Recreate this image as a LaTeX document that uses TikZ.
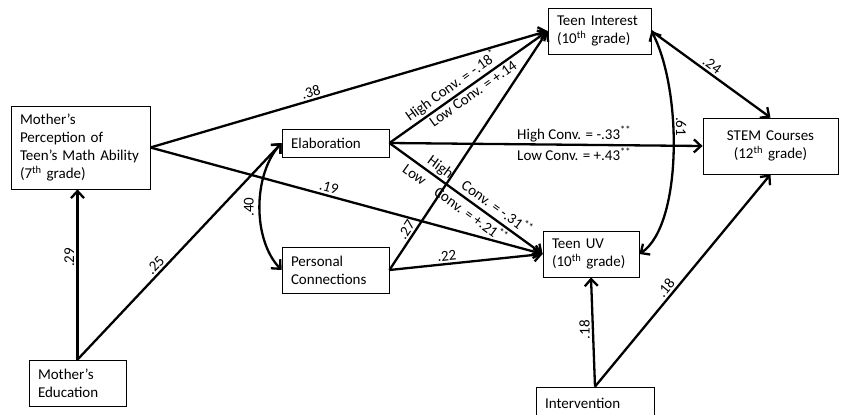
\documentclass[tikz,border=0pt]{standalone}
\usepackage{fontspec}
\setmainfont{Carlito}
\usetikzlibrary{arrows.meta}

\tikzset{
  box/.style={draw, line width=0.8pt, inner xsep=9pt, inner ysep=0pt, align=left,
    font=\fontsize{15}{18}\selectfont},
  link/.style={line width=2.3pt, -{Straight Barb[length=7pt,width=13pt]}},
  both/.style={line width=2.3pt, {Straight Barb[length=7pt,width=13pt]}-{Straight Barb[length=7pt,width=13pt]}},
  coef/.style={font=\fontsize{15}{18}\selectfont, inner sep=2pt},
}

\begin{document}
\begin{tikzpicture}[x=1pt,y=-1pt]
\useasboundingbox (0,0) rectangle (841,415);

% measured variables
\node[box, text width=121pt, minimum height=83pt] (mp) at (80.5,147.5)
  {Mother’s\\Perception of\\Teen’s Math Ability\\(7\textsuperscript{th} grade)};
\node[box, text width=79pt, minimum height=46pt] (me) at (77.5,383) {Mother’s\\Education};
\node[box, text width=89pt, minimum height=28pt] (el) at (335.5,143) {Elaboration};
\node[box, text width=89pt, minimum height=46pt] (pc) at (335.5,270) {Personal\\Connections};
\node[box, text width=85pt, minimum height=46pt] (ti) at (599.5,31) {Teen Interest\\(10\textsuperscript{th} grade)};
\node[box, text width=78pt, minimum height=46pt] (uv) at (591,254) {Teen UV\\(10\textsuperscript{th} grade)};
\node[box, text width=100pt, minimum height=32pt] (iv) at (595,403) {Intervention};
\node[box, text width=117pt, minimum height=56pt, align=center] (sc) at (770.5,146)
  {STEM Courses\\(12\textsuperscript{th} grade)};

% paths
\draw[link] (me.north) -- (me.north |- mp.south)
  node[coef, pos=0.6, rotate=90, anchor=south] {.29};
\draw[link] (me.north) -- (el.west) node[coef, pos=0.41, sloped, above] {.25};
\draw[link] (mp.east) -- (ti.west) node[coef, pos=0.41, sloped, above] {.38};
\draw[link] (mp.east) -- (uv.west) node[coef, pos=0.45, sloped, above] {.19};
\draw[link] (el.east) -- (ti.west)
  node[coef, pos=0.43, sloped, above] {High Conv. = -.18\textsuperscript{*}}
  node[coef, pos=0.5, sloped, below] {Low Conv. = +.14};
\draw[link] (el.east) -- (sc.west)
  node[coef, pos=0.59, above] {High Conv. = -.33\textsuperscript{**}}
  node[coef, pos=0.59, below] {Low Conv. = +.43\textsuperscript{**}};
\draw[link] (el.east) -- (uv.west)
  node[coef, pos=0.55, sloped, above] {High\hspace{14pt}Conv. = -.31\textsuperscript{**}}
  node[coef, pos=0.47, sloped, below] {Low\hspace{14pt}Conv. = +.21\textsuperscript{**}};
\draw[link] (pc.east) -- (ti.west) node[coef, pos=0.15, sloped, above] {.27};
\draw[link] (pc.east) -- (uv.west) node[coef, pos=0.38, sloped, above] {.22};
\draw[link] (ti.east) -- (sc.north) node[coef, pos=0.47, sloped, above] {.24};
\draw[link] (iv.north) -- (uv.south)
  node[coef, pos=0.52, rotate=90, anchor=south] {.18};
\draw[link] (iv.north) -- (sc.south) node[coef, pos=0.44, sloped, above] {.18};

% correlations
\draw[both] (el.west) .. controls +(-29,32) and +(-29,-30) .. (pc.west)
  node[coef, pos=0.5, rotate=90, anchor=south, inner sep=5pt] {.40};
\draw[both] (ti.east) .. controls +(31,59) and +(43,-29) .. (uv.east)
  node[coef, pos=0.4, rotate=-90, anchor=south] {.61};
\end{tikzpicture}
\end{document}
